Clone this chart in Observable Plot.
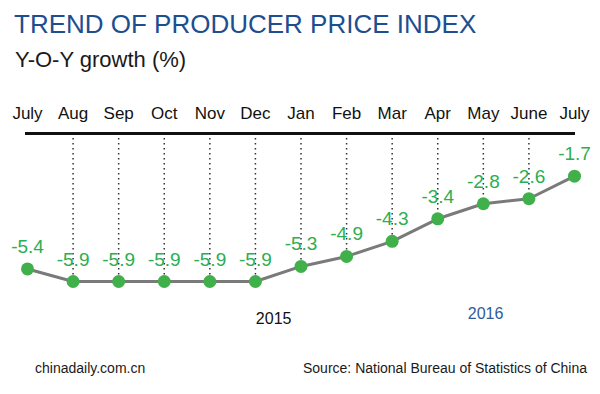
<!DOCTYPE html>
<html>
<head>
<meta charset="utf-8">
<script src="https://cdn.jsdelivr.net/npm/d3@7"></script>
<script src="https://cdn.jsdelivr.net/npm/@observablehq/plot@0.6"></script>
<style>
  html, body { margin: 0; padding: 0; background: #fff; }
  body { width: 600px; height: 394px; overflow: hidden; font-family: Arial, "Liberation Sans", sans-serif; }
  #title { padding: 9px 0 0 14px; height: 30px; line-height: 30px; font-size: 26px; color: #1d4e8f; white-space: nowrap; }
  #subtitle { padding: 8px 0 0 15px; height: 26px; line-height: 26px; font-size: 22px; color: #1a1a1a; white-space: nowrap; }
  #chart { height: 260px; }
  #footer { position: relative; margin-top: 26px; height: 18px; line-height: 18px; font-size: 14px; color: #1a1a1a; }
  #footer .left { position: absolute; left: 35px; top: 0; }
  #footer .right { position: absolute; left: 303px; top: 0; white-space: nowrap; }
</style>
</head>
<body>
<div id="title">TREND OF PRODUCER PRICE INDEX</div>
<div id="subtitle">Y-O-Y growth (%)</div>
<div id="chart"></div>
<div id="footer"><span class="left">chinadaily.com.cn</span><span class="right">Source: National Bureau of Statistics of China</span></div>
<script>
// ---- data ----
const months = ["July", "Aug", "Sep", "Oct", "Nov", "Dec", "Jan", "Feb", "Mar", "Apr", "May", "June", "July"];
const values = [-5.4, -5.9, -5.9, -5.9, -5.9, -5.9, -5.3, -4.9, -4.3, -3.4, -2.8, -2.6, -1.7];
const yearLabels = ["2015", "2016"];
const yearAt = [5.4, 10.05];      // month-index position of each year label
const yearLevel = [-7.6, -7.4];   // value-level of each year label

const data = values.map((v, i) => ({i, month: months[i], value: v}));
const inner = data.slice(1, -1);
const years = yearLabels.map((t, k) => ({t, x: yearAt[k], y: yearLevel[k], c: k === 0 ? "#111111" : "#2e5b9a"}));

const font = "Arial, 'Liberation Sans', sans-serif";

const chart = Plot.plot({
  width: 600,
  height: 260,
  marginTop: 60,
  marginLeft: 25,
  marginRight: 25,
  marginBottom: 0,
  style: {background: "transparent", fontFamily: font, overflow: "visible"},
  x: {domain: [0, 12], range: [27, 574], axis: null},
  y: {domain: [-5.9, 0], range: [208, 60], axis: null},
  marks: [
    Plot.axisX({
      anchor: "top",
      ticks: d3.range(months.length),
      tickFormat: i => months[i],
      tickSize: 0,
      tickPadding: 15,
      fontSize: 17,
      fill: "#111",
      label: null
    }),
    Plot.ruleX(inner, {x: "i", y1: 0, y2: "value", stroke: "#333", strokeWidth: 1.5, strokeDasharray: "1.5 3.5"}),
    Plot.ruleY([0], {stroke: "#111", strokeWidth: 2.8}),
    Plot.line(data, {x: "i", y: "value", stroke: "#7a7a7a", strokeWidth: 3}),
    Plot.dot(data, {x: "i", y: "value", r: 6.5, fill: "#40b14a", stroke: "none"}),
    Plot.text(data, {x: "i", y: "value", text: d => d.value.toFixed(1), lineAnchor: "bottom", dy: -16, fontSize: 19, fill: "#2cae52"}),
    Plot.text(years, {x: "x", y: "y", text: "t", fill: "c", fontSize: 16, lineAnchor: "bottom"})
  ]
});
document.getElementById("chart").appendChild(chart);
</script>
</body>
</html>
